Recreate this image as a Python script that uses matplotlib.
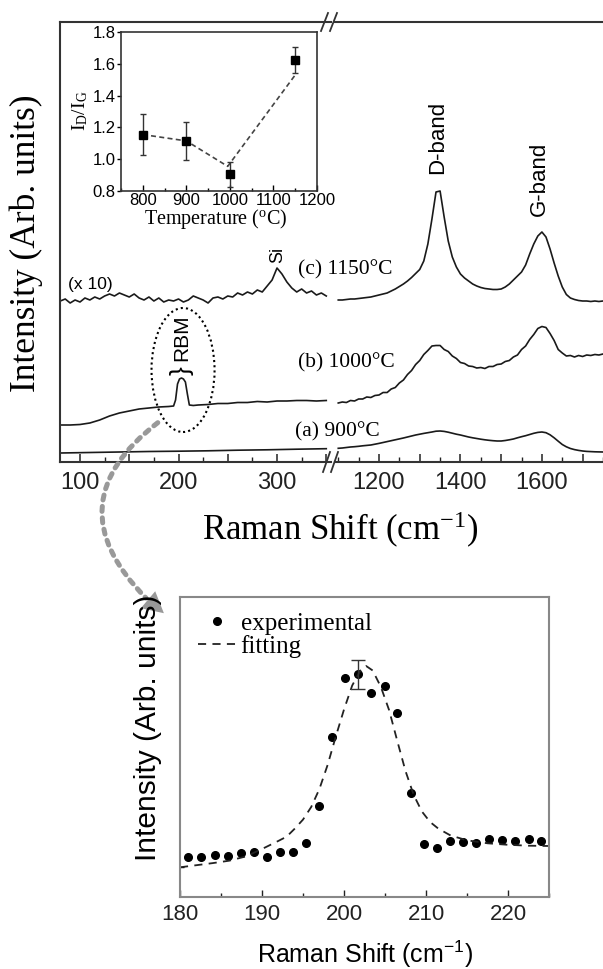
import matplotlib
matplotlib.use('Agg')
import matplotlib.pyplot as plt
from matplotlib.patches import Ellipse, FancyArrowPatch
from matplotlib.lines import Line2D
from matplotlib.ticker import MultipleLocator
import numpy as np

plt.rcParams['font.family'] = ['Liberation Sans', 'DejaVu Sans']
plt.rcParams['mathtext.default'] = 'regular'
SERIF = ['Liberation Serif', 'DejaVu Serif']

W, H = 603, 969

# ---------------- data: main Raman spectra ----------------
# low-wavenumber window (RBM region)
shift_lo_c = np.arange(80, 355, 5)
int_lo_c = [16.1, 16.3, 15.9, 16.2, 16.0, 16.4, 16.2, 16.5, 16.3, 16.6,
            16.8, 16.6, 16.9, 16.7, 16.5, 16.8, 16.4, 16.2, 16.5, 16.1,
            16.4, 16.0, 16.2, 16.1, 16.3, 16.0, 16.2, 16.6, 16.4, 16.2,
            15.9, 16.4, 16.5, 16.3, 16.6, 16.5, 16.9, 16.7, 17.0, 16.8,
            17.2, 17.0, 17.6, 18.2, 19.4, 18.8, 18.0, 17.4, 17.0, 17.3,
            16.9, 17.1, 16.7, 16.9, 16.6]
shift_lo_b = [80, 90, 100, 110, 120, 130, 140, 150, 160, 170, 180, 190, 195,
              197, 199, 201, 203, 205, 207, 209, 211, 215, 220, 230, 240,
              250, 260, 270, 280, 290, 300, 310, 320, 330, 340, 350]
int_lo_b = [3.7, 3.7, 3.75, 3.9, 4.2, 4.6, 4.9, 5.1, 5.3, 5.4, 5.5, 5.55, 5.6,
            6.2, 7.8, 8.3, 8.4, 8.3, 8.0, 6.8, 5.7, 5.65, 5.7, 5.75, 5.85,
            5.85, 5.95, 5.95, 6.05, 6.0, 6.1, 6.1, 6.15, 6.15, 6.1, 6.15]
shift_lo_a = [80, 110, 140, 170, 200, 230, 260, 290, 320, 350]
int_lo_a = [0.9, 0.95, 1.0, 1.05, 1.08, 1.12, 1.18, 1.22, 1.28, 1.33]

# high-wavenumber window (D and G bands)
shift_hi = np.arange(1100, 1755, 10)
int_hi_c = [16.2, 16.2, 16.25, 16.3, 16.3, 16.35, 16.4, 16.45, 16.5, 16.6,
            16.7, 16.8, 16.9, 17.1, 17.3, 17.55, 17.8, 18.1, 18.45, 18.85,
            19.25, 20.1, 21.8, 24.3, 27.0, 27.1, 24.5, 22.1, 20.5, 19.5,
            18.8, 18.4, 18.1, 17.8, 17.6, 17.45, 17.35, 17.3, 17.25, 17.25,
            17.3, 17.5, 17.8, 18.2, 18.6, 19.0, 19.7, 20.8, 21.8, 22.6,
            23.0, 22.5, 21.3, 19.9, 18.6, 17.5, 16.75, 16.4, 16.25, 16.15,
            16.1, 16.1, 16.05, 16.1, 16.05, 16.1]
int_hi_b = [5.9, 6.0, 5.95, 6.15, 6.1, 6.3, 6.3, 6.5, 6.45, 6.65,
            6.7, 6.95, 6.95, 7.3, 7.45, 7.9, 8.2, 8.75, 9.15, 9.75,
            10.15, 10.75, 11.15, 11.6, 11.65, 11.65, 11.25, 11.05, 10.6, 10.35,
            9.95, 9.85, 9.6, 9.55, 9.4, 9.45, 9.35, 9.55, 9.55, 9.75,
            9.8, 10.05, 10.15, 10.5, 10.7, 11.25, 11.6, 12.25, 12.75, 13.35,
            13.55, 13.45, 12.85, 12.15, 11.25, 10.9, 10.6, 10.65, 10.5, 10.65,
            10.55, 10.7, 10.65, 10.75, 10.7, 10.8]
int_hi_a = [1.37, 1.4, 1.45, 1.5, 1.53, 1.57, 1.62, 1.66, 1.7, 1.78,
            1.86, 1.95, 2.04, 2.13, 2.22, 2.31, 2.4, 2.5, 2.6, 2.7,
            2.78, 2.86, 2.93, 3.0, 3.08, 3.1, 3.06, 2.98, 2.88, 2.78,
            2.7, 2.6, 2.5, 2.42, 2.35, 2.28, 2.22, 2.17, 2.13, 2.1,
            2.1, 2.15, 2.22, 2.3, 2.42, 2.53, 2.63, 2.75, 2.87, 2.96,
            3.0, 2.93, 2.72, 2.42, 2.08, 1.75, 1.52, 1.35, 1.24, 1.16,
            1.1, 1.06, 1.04, 1.02, 1.01, 1.0]

# ---------------- data: inset I_D/I_G ----------------
temps = [800, 900, 1000, 1150]
ratio = [1.155, 1.115, 0.905, 1.625]
ratio_err = [0.13, 0.12, 0.08, 0.08]
trend_t = [800, 900, 995, 1150]
trend_r = [1.155, 1.115, 0.955, 1.53]

# ---------------- data: RBM zoom ----------------
rbm_shift = [181.0, 182.6, 184.25, 185.8, 187.4, 189.0, 190.6, 192.2, 193.8,
             195.4, 196.9, 198.55, 200.1, 201.75, 203.3, 204.95, 206.5,
             208.15, 209.8, 211.3, 212.9, 214.5, 216.1, 217.7, 219.3, 220.9,
             222.5, 224.05]
rbm_int = [13.2, 13.4, 13.9, 13.6, 14.6, 15.0, 13.2, 15.0, 15.1, 17.9, 30.3,
           53.4, 72.9, 74.2, 67.9, 70.4, 61.2, 34.6, 17.7, 16.5, 18.7, 18.4,
           17.9, 19.5, 19.0, 18.7, 19.2, 18.7]
err_index = 13
err_size = 4.9
fit_shift = [180, 182, 184, 186, 188, 190, 192, 193, 194, 195, 196, 197, 198,
             199, 200, 201, 202, 202.7, 203.5, 204.5, 205.5, 206.5, 207.5,
             208.5, 209.5, 210.5, 211.5, 213, 215, 217.5, 220, 222.5, 225]
fit_int = [9.9, 10.6, 11.3, 12.1, 13.5, 16.0, 18.7, 20.1, 22.8, 25.8, 30.0,
           36.0, 44.0, 53.5, 62.5, 70.5, 75.5, 77.0, 75.5, 70.0, 62.3, 52.0,
           42.0, 34.0, 28.5, 25.0, 22.8, 20.5, 18.9, 17.9, 17.4, 17.1, 17.0]


def fig_box(x0, y0, x1, y1):
    """pixel box (top-left origin) -> figure fraction rect"""
    return [x0 / W, 1 - y1 / H, (x1 - x0) / W, (y1 - y0) / H]


def fpt(x, y):
    return x / W, 1 - y / H


fig = plt.figure(figsize=(W / 100, H / 100), dpi=100)

# ---------------- main broken-axis spectrum ----------------
ax1 = fig.add_axes(fig_box(60, 22, 331, 462))
ax2 = fig.add_axes(fig_box(335, 22, 603, 462))
line_kw = dict(color='#1a1a1a', lw=1.2)

ax1.plot(shift_lo_c, int_lo_c, **line_kw)
ax1.plot(shift_lo_b, int_lo_b, **line_kw)
ax1.plot(shift_lo_a, int_lo_a, **line_kw)
ax2.plot(shift_hi, int_hi_c, **line_kw)
ax2.plot(shift_hi, int_hi_b, **line_kw)
ax2.plot(shift_hi, int_hi_a, **line_kw)

ax1.set_xlim(79.7, 354.8)
ax2.set_xlim(1092, 1750)
for ax in (ax1, ax2):
    ax.set_ylim(0, 44)
    ax.set_yticks([])
    ax.patch.set_visible(False)
    for s in ax.spines.values():
        s.set_linewidth(1.5)
        s.set_color('#333333')
    ax.tick_params(axis='x', which='major', direction='in', length=6,
                   width=1.1, labelsize=17, pad=7, colors='#222222')
    ax.tick_params(axis='x', which='minor', direction='in', length=3.5,
                   width=1.0, colors='#222222')
ax1.spines['right'].set_visible(False)
ax2.spines['left'].set_visible(False)
ax2.spines['right'].set_visible(False)

ax1.set_xticks([100, 150, 200, 250, 300, 350])
ax1.set_xticklabels(['100', '', '200', '', '300', ''])
ax1.xaxis.set_minor_locator(MultipleLocator(25))
ax2.set_xticks([1200, 1300, 1400, 1500, 1600, 1700])
ax2.set_xticklabels(['1200', '', '1400', '', '1600', ''])
ax2.xaxis.set_minor_locator(MultipleLocator(50))

# break marks
for (xa, ya, xb, yb) in [(321, 31, 328, 13), (330, 31, 337, 13),
                         (323, 472, 330, 452), (331, 472, 338, 452)]:
    x_a, y_a = fpt(xa, ya)
    x_b, y_b = fpt(xb, yb)
    fig.add_artist(Line2D([x_a, x_b], [y_a, y_b], transform=fig.transFigure,
                          color='#333333', lw=1.3))

# annotations
ax1.text(321, 19.2, '(c) 1150°C', family=SERIF, fontsize=15.5, va='center',
         zorder=5)
ax1.text(321, 9.9, '(b) 1000°C', family=SERIF, fontsize=15.5, va='center',
         zorder=5)
ax1.text(318, 3.0, '(a) 900°C', family=SERIF, fontsize=15.5, va='center',
         zorder=5)
ax1.text(88, 17.7, '(x 10)', fontsize=12.5, va='center', ha='left')
ax1.text(301, 19.9, 'Si', fontsize=13, rotation=90, ha='center', va='bottom')
ax1.text(203.6, 9.1, '}', fontsize=19, rotation=90, ha='center',
         va='center')
ax1.text(203.6, 12.4, 'RBM', fontsize=15, rotation=90, ha='center',
         va='center')
ax1.add_patch(Ellipse((204.6, 9.2), width=64, height=12.4, fill=False,
                      ls=(0, (1, 1.5)), lw=1.5, ec='black', clip_on=False))
ax2.text(1345, 32.5, 'D-band', fontsize=16, rotation=90, ha='center',
         va='center')
ax2.text(1595, 28.3, 'G-band', fontsize=16, rotation=90, ha='center',
         va='center')

fig.text(*fpt(26, 243), 'Intensity (Arb. units)', family=SERIF, fontsize=25.5,
         rotation=90, ha='center', va='center')
fig.text(*fpt(340, 540), 'Raman Shift (cm$^{-1}$)', family=SERIF, fontsize=25,
         ha='center', va='baseline')

# ---------------- inset ----------------
axi = fig.add_axes(fig_box(121, 32, 317, 191))
axi.plot(trend_t, trend_r, ls=(0, (3, 2)), color='#444444', lw=1.2)
axi.errorbar(temps, ratio, yerr=ratio_err, fmt='s', color='black', ms=5.5,
             ecolor='#333333', elinewidth=1.0, capsize=2.5, capthick=1.0)
axi.set_xlim(750, 1200)
axi.set_ylim(0.8, 1.8)
axi.set_xticks([800, 900, 1000, 1100, 1200])
axi.set_yticks([0.8, 1.0, 1.2, 1.4, 1.6, 1.8])
axi.set_yticklabels(['0.8', '1.0', '1.2', '1.4', '1.6', '1.8'])
axi.xaxis.set_minor_locator(MultipleLocator(50))
axi.tick_params(axis='x', which='major', direction='in', length=4, width=1,
                labelsize=12, pad=1.5)
axi.tick_params(axis='x', which='minor', direction='in', length=2.5, width=1)
axi.tick_params(axis='y', which='major', direction='out', length=3, width=1,
                labelsize=12, pad=1)
for s in axi.spines.values():
    s.set_linewidth(1.2)
    s.set_color('#333333')
fig.text(*fpt(216, 224), 'Temperature ($^{o}$C)', family=SERIF, fontsize=14.5,
         ha='center', va='baseline')
fig.text(*fpt(80, 111), '$I_D/I_G$', family=SERIF, fontsize=14, rotation=90,
         ha='center', va='center')

# ---------------- RBM zoom panel ----------------
axb = fig.add_axes(fig_box(180, 597, 549, 897))
exp_line, = axb.plot(rbm_shift, rbm_int, 'o', color='black', ms=5.5,
                     label='experimental')
fit_line, = axb.plot(fit_shift, fit_int, ls=(0, (4.5, 3.5)), color='#222222',
                     lw=1.3, label='fitting')
axb.errorbar([rbm_shift[err_index]], [rbm_int[err_index]], yerr=err_size,
             fmt='none', ecolor='#333333', elinewidth=1.0, capsize=5,
             capthick=1.0)
axb.set_xlim(180, 225)
axb.set_ylim(0, 100)
axb.set_xticks([180, 190, 200, 210, 220])
axb.xaxis.set_minor_locator(MultipleLocator(5))
axb.set_yticks([10])
axb.set_yticklabels([])
axb.tick_params(axis='x', which='major', direction='in', length=5, width=1,
                labelsize=16, pad=5, colors='#222222')
axb.tick_params(axis='x', which='minor', direction='in', length=3, width=1,
                colors='#222222')
axb.tick_params(axis='y', direction='in', length=3, width=1)
for s in axb.spines.values():
    s.set_linewidth(1.5)
    s.set_color('#888888')
axb.legend(handles=[exp_line, fit_line], loc='upper left',
           bbox_to_anchor=(0.015, 0.99), frameon=False,
           prop={'family': SERIF, 'size': 18}, handlelength=1.5,
           handletextpad=0.2, labelspacing=0.0, borderpad=0.3,
           borderaxespad=0.2)
fig.text(*fpt(365, 963), 'Raman Shift (cm$^{-1}$)', fontsize=18,
         ha='center', va='baseline')
fig.text(*fpt(148, 728), 'Intensity (Arb. units)', fontsize=21.5,
         rotation=90, ha='center', va='center')

# ---------------- dotted connector arrow ----------------
gray = '#999999'
fig.add_artist(FancyArrowPatch(fpt(160, 421), fpt(148, 600),
                               transform=fig.transFigure,
                               connectionstyle='arc3,rad=0.58',
                               arrowstyle='-', color=gray, lw=3.6,
                               ls=(0, (1, 1.3))))
fig.add_artist(FancyArrowPatch(fpt(146, 598), fpt(166, 615),
                               transform=fig.transFigure,
                               arrowstyle='-|>,head_length=15,head_width=8',
                               mutation_scale=1, color=gray, lw=0))

fig.savefig('out.png', dpi=100)
